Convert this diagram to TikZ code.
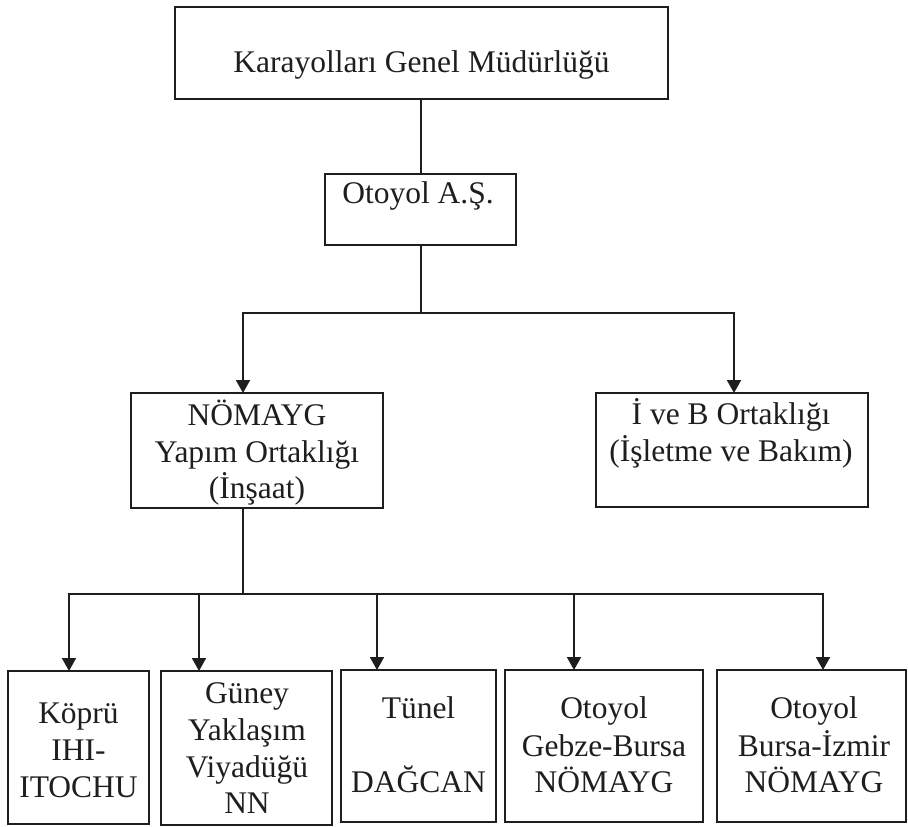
\documentclass[tikz,border=0pt]{standalone}
\usepackage{fontspec}
\setmainfont{Liberation Serif}
\usetikzlibrary{arrows.meta}
\definecolor{ink}{HTML}{1E1E1E}
\begin{document}
\begin{tikzpicture}[x=1pt,y=-1pt,
  box/.style={draw=ink, line width=2.2pt, inner sep=0pt, outer sep=0pt},
  txt/.style={anchor=base, inner sep=0pt, outer sep=0pt, text=ink, font=\fontsize{31.5}{37}\selectfont},
  conn/.style={draw=ink, line width=2pt},
  arr/.style={conn, -{Triangle[length=13pt,width=14pt]}}]
\useasboundingbox (0,0) rectangle (908,827);
% top level
\node[box, minimum width=493pt, minimum height=92pt] (kgm) at (421.5,53) {};
\node[txt] (kgmt) at (421.5,72) {Karayolları Genel Müdürlüğü};
\node[box, minimum width=191pt, minimum height=71pt] (oto) at (420.5,209.5) {};
\node[txt] (otot) at (418,203) {Otoyol A.Ş.};
% second level
\node[box, minimum width=252pt, minimum height=115pt] (nom) at (257,450.5) {};
\node[txt] (nom1) at (257,425) {NÖMAYG};
\node[txt] (nom2) at (257,462) {Yapım Ortaklığı};
\node[txt] (nom3) at (257,498) {(İnşaat)};
\node[box, minimum width=272pt, minimum height=114pt] (ivb) at (732,450) {};
\node[txt] (ivb1) at (731,424) {İ ve B Ortaklığı};
\node[txt] (ivb2) at (731,461) {(İşletme ve Bakım)};
% bottom level
\node[box, minimum width=141pt, minimum height=153pt] (kop) at (78.5,747.5) {};
\node[txt] (kop1) at (78.5,723) {Köprü};
\node[txt] (kop2) at (78.5,760) {IHI-};
\node[txt] (kop3) at (78.5,797) {ITOCHU};
\node[box, minimum width=171pt, minimum height=154pt] (gun) at (246.5,748) {};
\node[txt] (gun1) at (247,703) {Güney};
\node[txt] (gun2) at (247,740) {Yaklaşım};
\node[txt] (gun3) at (247,777) {Viyadüğü};
\node[txt] (gun4) at (247,813) {NN};
\node[box, minimum width=155pt, minimum height=152pt] (tun) at (418.5,746) {};
\node[txt] (tun1) at (418.5,718) {Tünel};
\node[txt] (tun2) at (418.5,792) {DAĞCAN};
\node[box, minimum width=198pt, minimum height=152pt] (geb) at (604,746) {};
\node[txt] (geb1) at (604,718) {Otoyol};
\node[txt] (geb2) at (604,756) {Gebze-Bursa};
\node[txt] (geb3) at (604,792) {NÖMAYG};
\node[box, minimum width=189pt, minimum height=152pt] (bur) at (811.5,746) {};
\node[txt] (bur1) at (814,718) {Otoyol};
\node[txt] (bur2) at (814,756) {Bursa-İzmir};
\node[txt] (bur3) at (814,792) {NÖMAYG};
% connectors
\draw[conn] (oto.north) -- (oto.north |- kgm.south);
\coordinate (j1) at (420.5,313);
\draw[conn] (oto.south) -- (j1);
\draw[arr] (j1) -| ([xshift=-14pt]nom.north);
\draw[arr] (j1) -| ([xshift=2pt]ivb.north);
\coordinate (j2) at (243,594);
\draw[conn] (nom.south -| j2) -- (j2);
\draw[arr] (j2) -| ([xshift=-9.5pt]kop.north);
\draw[arr] (j2) -| ([xshift=-47.5pt]gun.north);
\draw[arr] (j2) -| ([xshift=-41.5pt]tun.north);
\draw[arr] (j2) -| ([xshift=-30pt]geb.north);
\draw[arr] (j2) -| ([xshift=11.5pt]bur.north);
\end{tikzpicture}
\end{document}
